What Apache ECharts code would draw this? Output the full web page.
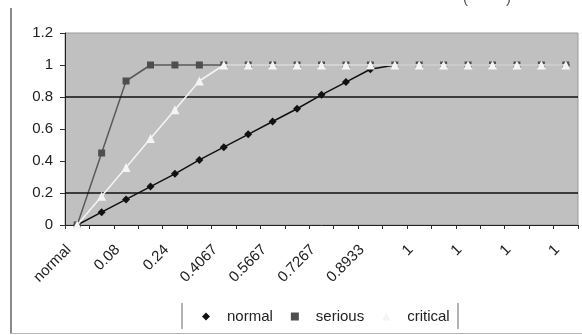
<!DOCTYPE html>
<html>
<head>
<meta charset="utf-8">
<script src="https://cdn.jsdelivr.net/npm/echarts@6/dist/echarts.min.js"></script>
<style>
  html, body { margin: 0; padding: 0; background: #ffffff; }
  #chart { width: 582px; height: 335px; }
</style>
</head>
<body>
<div id="chart"></div>
<script>
// Category column (first cell is the column header)
const categories = ['normal', '0', '0.08', '0.16', '0.24', '0.32', '0.4067', '0.4867', '0.5667',
  '0.6467', '0.7267', '0.8133', '0.8933', '0.9733', '1', '1', '1', '1', '1', '1', '1'];

// Membership values per state
const normalValues = [0, 0.08, 0.16, 0.24, 0.32, 0.4067, 0.4867, 0.5667, 0.6467, 0.7267, 0.8133,
  0.8933, 0.9733, 1, 1, 1, 1, 1, 1, 1, 1];
const seriousValues = [0, 0.45, 0.9, 1, 1, 1, 1, 1, 1, 1, 1, 1, 1, 1, 1, 1, 1, 1, 1, 1, 1];
const criticalValues = [0, 0.18, 0.36, 0.54, 0.72, 0.9, 1, 1, 1, 1, 1, 1, 1, 1, 1, 1, 1, 1, 1, 1, 1];

// Value axis range and the horizontal reference lines
const yMin = 0;
const yMax = 1.2;
const yStep = 0.2;
const gridLineValues = [0.2, 0.8];

const FONT = "'Liberation Sans', Arial, sans-serif";

const chart = echarts.init(document.getElementById('chart'), null, { renderer: 'canvas' });

chart.setOption({
  animation: false,
  backgroundColor: '#ffffff',
  textStyle: { fontFamily: FONT },
  grid: {
    left: 65, right: 4, top: 33, bottom: 110,
    show: true,
    backgroundColor: '#c0c0c0',
    borderColor: '#9a9a9a',
    borderWidth: 1
  },
  legend: {
    left: 197,
    top: 304,
    itemWidth: 8,
    itemHeight: 8,
    itemGap: 18,
    textStyle: { fontFamily: FONT, fontSize: 15, color: '#222', padding: [0, 0, 0, 12] },
    data: [
      { name: 'normal', icon: 'diamond' },
      { name: 'serious', icon: 'rect' },
      { name: 'critical', icon: 'triangle' }
    ]
  },
  xAxis: {
    type: 'category',
    data: categories,
    boundaryGap: true,
    axisLine: { show: true, lineStyle: { color: '#222', width: 1 } },
    axisTick: { show: true, inside: false, length: 4, interval: 0, lineStyle: { color: '#333' } },
    axisLabel: {
      interval: 1,
      rotate: 45,
      margin: 14,
      padding: [0, 12, 0, 0],
      fontFamily: FONT,
      fontSize: 15,
      color: '#222'
    },
    splitLine: { show: false }
  },
  yAxis: {
    type: 'value',
    min: yMin,
    max: yMax,
    interval: yStep,
    axisLine: { show: true, lineStyle: { color: '#222', width: 1 } },
    axisTick: { show: true, inside: false, length: 5, lineStyle: { color: '#333' } },
    axisLabel: {
      margin: 12,
      fontFamily: FONT,
      fontSize: 15,
      color: '#222',
      formatter: v => String(Math.round(v * 10) / 10)
    },
    splitLine: { show: false }
  },
  graphic: [
    // outer frame of the figure
    { type: 'line', shape: { x1: 11, y1: 8, x2: 11, y2: 334 }, style: { stroke: '#8a8a8a', lineWidth: 2 }, silent: true },
    { type: 'line', shape: { x1: 10, y1: 333.5, x2: 582, y2: 333.5 }, style: { stroke: '#b4b4b4', lineWidth: 1 }, silent: true },
    // legend side rules
    { type: 'line', shape: { x1: 182, y1: 303, x2: 182, y2: 329 }, style: { stroke: '#9a9a9a', lineWidth: 1.5 }, silent: true },
    { type: 'line', shape: { x1: 458, y1: 303, x2: 458, y2: 329 }, style: { stroke: '#9a9a9a', lineWidth: 1.5 }, silent: true },
    // caption brackets running off the top edge
    { type: 'text', left: 463, top: -9, style: { text: '(', font: '15px ' + FONT, fill: '#555' }, silent: true },
    { type: 'text', left: 506, top: -9, style: { text: ')', font: '15px ' + FONT, fill: '#555' }, silent: true }
  ],
  series: [
    {
      name: 'gridLines',
      type: 'line',
      data: [],
      z: 1,
      silent: true,
      markLine: {
        silent: true,
        symbol: ['none', 'none'],
        label: { show: false },
        lineStyle: { color: '#111', width: 1.5, type: 'solid' },
        data: gridLineValues.map(v => ({ yAxis: v }))
      }
    },
    {
      name: 'normal',
      type: 'line',
      data: normalValues,
      z: 3,
      symbol: 'diamond',
      symbolSize: 8,
      showAllSymbol: true,
      lineStyle: { color: '#111', width: 1.5 },
      itemStyle: { color: '#111' }
    },
    {
      name: 'serious',
      type: 'line',
      data: seriousValues,
      z: 4,
      symbol: 'rect',
      symbolSize: 7,
      showAllSymbol: true,
      lineStyle: { color: '#5a5a5a', width: 1.5 },
      itemStyle: { color: '#4e4e4e' }
    },
    {
      name: 'critical',
      type: 'line',
      data: criticalValues,
      z: 5,
      symbol: 'triangle',
      symbolSize: 9,
      showAllSymbol: true,
      lineStyle: { color: '#f4f4f4', width: 1.5 },
      itemStyle: { color: '#f4f4f4' }
    }
  ]
});
</script>
</body>
</html>
